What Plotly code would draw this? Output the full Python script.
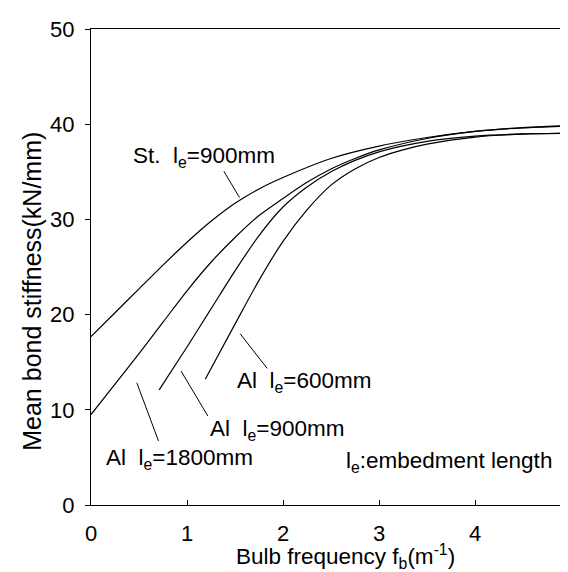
import plotly.graph_objects as go

# ---- data ----
st900_x = [0, 0.25, 0.5, 0.75, 1.0, 1.25, 1.5, 1.75, 2.0, 2.5, 3.0, 3.5, 4.0, 4.5, 5.0]
st900_y = [17.7, 20.2, 22.7, 25.2, 27.6, 29.8, 31.7, 33.2, 34.4, 36.4, 37.7, 38.6, 39.25, 39.65, 39.87]

al1800_x = [0, 0.25, 0.5, 0.75, 1.0, 1.25, 1.5, 1.75, 2.0, 2.25, 2.5, 2.75, 3.0, 3.5, 4.0, 4.5, 5.0]
al1800_y = [9.5, 12.7, 15.9, 19.2, 22.5, 25.5, 28.1, 30.4, 32.2, 33.9, 35.3, 36.4, 37.3, 38.5, 39.25, 39.62, 39.82]

al900_x = [0.71, 1.0, 1.25, 1.5, 1.75, 2.0, 2.25, 2.5, 2.75, 3.0, 3.5, 4.0, 4.5, 5.0]
al900_y = [12.1, 16.6, 20.6, 24.6, 28.3, 31.3, 33.4, 35.0, 36.2, 37.1, 38.2, 38.75, 38.98, 39.06]

al600_x = [1.19, 1.5, 1.75, 2.0, 2.25, 2.5, 2.75, 3.0, 3.25, 3.5, 4.0, 4.5, 5.0]
al600_y = [13.2, 19.0, 23.6, 27.7, 31.0, 33.6, 35.3, 36.5, 37.3, 37.9, 38.65, 38.95, 39.04]

x_ticks = [0, 1, 2, 3, 4, 5]
y_ticks = [0, 10, 20, 30, 40, 50]

x_title = "Bulb frequency f<sub>b</sub>(m<sup>-1</sup>)"
y_title = "Mean bond stiffness(kN/mm)"

label_texts = ["St.&nbsp; l<sub>e</sub>=900mm", "Al&nbsp; l<sub>e</sub>=1800mm",
               "Al&nbsp; l<sub>e</sub>=900mm", "Al&nbsp; l<sub>e</sub>=600mm",
               "l<sub>e</sub>:embedment length"]
label_x = [0.417, 0.132, 1.217, 1.504, 2.635]
label_y = [36.6, 4.8, 7.9, 12.95, 4.56]

# leader lines: (x0, y0, x1, y1)
leaders = [(1.384, 35.05, 1.547, 32.3),
           (0.477, 12.84, 0.703, 6.73),
           (0.938, 14.07, 1.217, 9.35),
           (1.554, 17.98, 1.835, 14.35)]

FONT = "Liberation Sans, Arial, sans-serif"
fig = go.Figure()
for xs, ys in [(st900_x, st900_y), (al1800_x, al1800_y), (al900_x, al900_y), (al600_x, al600_y)]:
    fig.add_trace(go.Scatter(x=xs, y=ys, mode="lines",
                             line=dict(color="black", width=1.2, shape="spline", smoothing=0.8),
                             showlegend=False, hoverinfo="skip"))

for t, lx, ly in zip(label_texts, label_x, label_y):
    fig.add_annotation(x=lx, y=ly, xref="x", yref="y", text=t, showarrow=False,
                       xanchor="left", yanchor="middle",
                       font=dict(size=22.5, color="black", family=FONT))

for x0, y0, x1, y1 in leaders:
    fig.add_shape(type="line", x0=x0, y0=y0, x1=x1, y1=y1, xref="x", yref="y",
                  line=dict(color="black", width=1))

# axis titles (placed as text in paper coordinates)
fig.add_annotation(x=-0.123, y=0.45, xref="paper", yref="paper", text=y_title,
                   showarrow=False, textangle=-90, xanchor="center", yanchor="middle",
                   font=dict(size=25, color="black", family=FONT))
fig.add_annotation(x=0.531, y=-0.146, xref="paper", yref="paper", text=x_title,
                   showarrow=False, xanchor="center", yanchor="bottom",
                   font=dict(size=22.5, color="black", family=FONT))

fig.update_layout(
    width=568, height=572,
    margin=dict(l=83, r=5, t=21, b=75),
    paper_bgcolor="white", plot_bgcolor="white",
    font=dict(family=FONT, size=22, color="black"),
    xaxis=dict(range=[0, 5], tickvals=x_ticks, ticks="inside", ticklen=5, tickcolor="black",
               showline=True, linecolor="black", linewidth=1.3, mirror=True, showgrid=False,
               zeroline=False, ticklabelstandoff=8, automargin=False, ticklabeloverflow="allow"),
    yaxis=dict(range=[0, 50], tickvals=y_ticks, ticks="outside", ticklen=5, tickcolor="black",
               showline=True, linecolor="black", linewidth=1.3, mirror=True, showgrid=False,
               zeroline=False, ticklabelstandoff=6, automargin=False, ticklabeloverflow="allow"),
)

fig.write_html("out.html")
